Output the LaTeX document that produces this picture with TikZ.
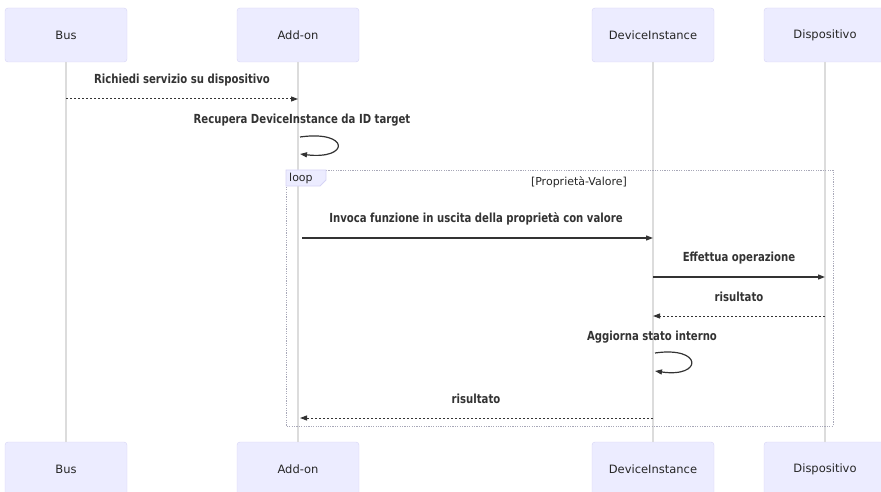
\documentclass[tikz,border=0pt]{standalone}
\usepackage{fontspec}
\setsansfont{DejaVu Sans}
\newfontfamily\msgfont{DejaVu Sans Condensed Bold}[FakeStretch=0.9]
\usetikzlibrary{arrows.meta}
\definecolor{actorfill}{HTML}{ECECFF}
\definecolor{actorline}{HTML}{D6D3F5}
\definecolor{lifeline}{HTML}{DCDCDC}
\definecolor{msgcol}{HTML}{333333}
\definecolor{loopline}{HTML}{A8A8B8}
\tikzset{
  x=1pt, y=-1pt,
  actor/.style={draw=actorline, fill=actorfill, rounded corners=3pt,
    minimum width=122pt, minimum height=54pt, inner sep=0pt,
    font=\sffamily\fontsize{11.5}{13}\selectfont, text=black!85},
  life/.style={draw=lifeline, line width=1.3pt},
  msg/.style={draw=msgcol, line width=1.2pt, -{Triangle[length=7pt,width=5pt]}},
  reply/.style={msg, line width=1pt, dash pattern=on 2pt off 2pt},
  label/.style={font=\msgfont\fontsize{12.5}{14}\selectfont, text=black!80, inner sep=0pt},
  loopbox/.style={draw=loopline, line width=0.9pt, dash pattern=on 1.2pt off 1.2pt},
  looptab/.style={draw=actorline, fill=actorfill, line width=0.8pt},
  looptext/.style={font=\sffamily\fontsize{11}{13}\selectfont, text=black!85, inner sep=0pt}
}
\begin{document}
\begin{tikzpicture}
\useasboundingbox (0,0) rectangle (881,492);

% participants (top and bottom rows)
\node[actor] (busT)  at (66,35)  {Bus};
\node[actor] (addT)  at (298,35) {Add-on};
\node[actor] (devT)  at (653,35) {DeviceInstance};
\node[actor] (dispT) at (825,35) {Dispositivo};
\node[actor] (busB)  at (66,469)  {Bus};
\node[actor] (addB)  at (298,469) {Add-on};
\node[actor] (devB)  at (653,469) {DeviceInstance};
\node[actor] (dispB) at (825,469) {Dispositivo};

% lifelines
\draw[life] (busT) -- (busB);
\draw[life] (addT) -- (addB);
\draw[life] (devT) -- (devB);
\draw[life] (dispT) -- (dispB);

% loop frame
\draw[loopbox] (286,170) rectangle (833,426);
\draw[looptab] (286,170) -- (326,170) -- (326,180) -- (320,186) -- (286,186) -- cycle;
\node[looptext, anchor=west] (looplbl) at (289,178) {loop};
\node[looptext] (loopcond) at (579,182) {[Proprietà-Valore]};

% message anchor points on the lifelines
\coordinate (m1a) at (66,99);   \coordinate (m1b) at (298,99);
\coordinate (s1a) at (300,137); \coordinate (s1b) at (300,154);
\coordinate (m2a) at (302,238); \coordinate (m2b) at (653,238);
\coordinate (m3a) at (653,277); \coordinate (m3b) at (825,277);
\coordinate (m4a) at (825,316); \coordinate (m4b) at (653,316);
\coordinate (s2a) at (655,353); \coordinate (s2b) at (655,371);
\coordinate (m5a) at (653,418); \coordinate (m5b) at (300,418);

% messages
\node[label] (t1) at (182,80)  {Richiedi servizio su dispositivo};
\draw[reply] (m1a) -- (m1b);

\node[label] (t2) at (302,120) {Recupera DeviceInstance da ID target};
\draw[msg] (s1a) .. controls (350,130) and (350,160) .. (s1b);

\node[label] (t3) at (476,219) {Invoca funzione in uscita della proprietà con valore};
\draw[msg] (m2a) -- (m2b);

\node[label] (t4) at (739,258) {Effettua operazione};
\draw[msg] (m3a) -- (m3b);

\node[label] (t5) at (739,297) {risultato};
\draw[reply] (m4a) -- (m4b);

\node[label] (t6) at (652,337) {Aggiorna stato interno};
\draw[msg] (s2a) .. controls (703,346) and (703,378) .. (s2b);

\node[label] (t7) at (476,399) {risultato};
\draw[reply] (m5a) -- (m5b);
\end{tikzpicture}
\end{document}
